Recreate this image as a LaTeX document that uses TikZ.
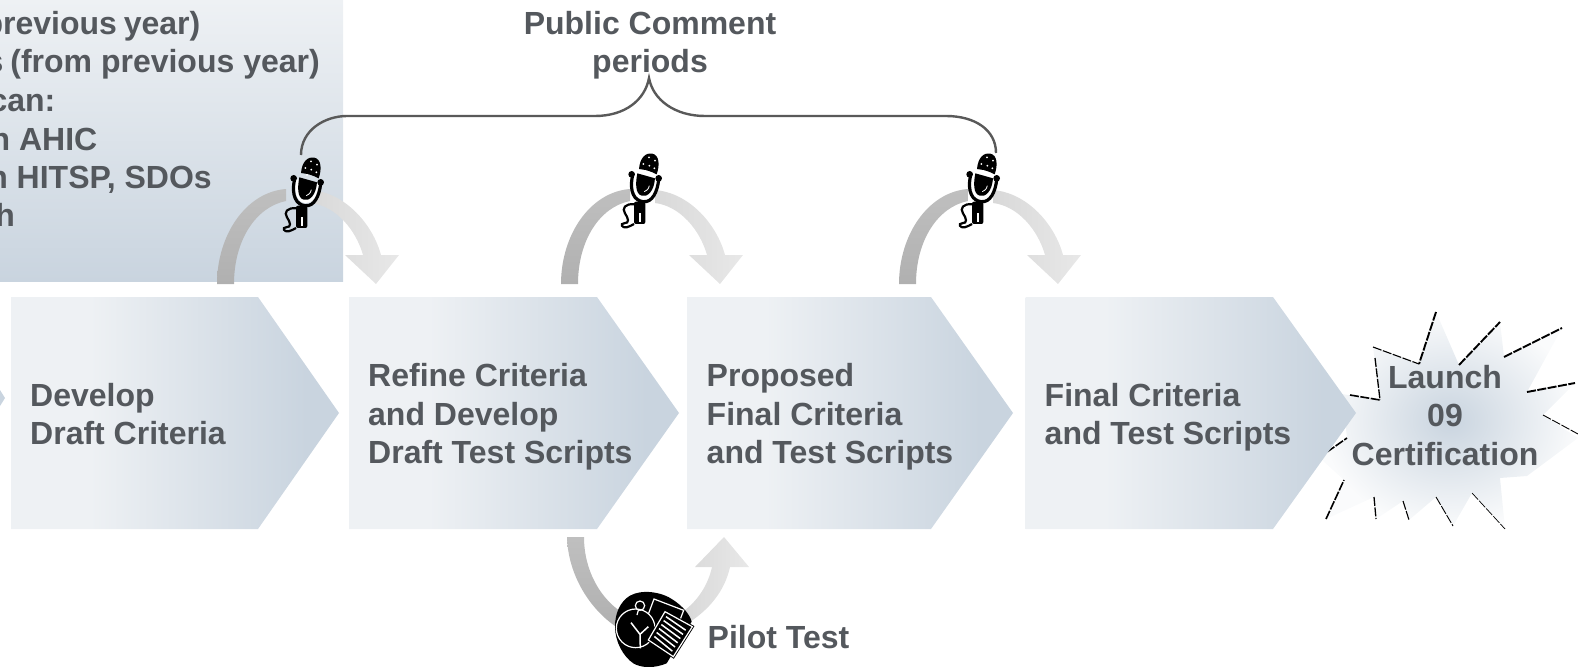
\documentclass[tikz,border=0pt]{standalone}
\usepackage{fontspec}
\setmainfont{Liberation Sans}
\usepackage{tikz}
\usetikzlibrary{positioning,shapes,arrows,calc}

\definecolor{txtgrey}{HTML}{54585D}
\definecolor{paleblue}{HTML}{EEF1F4}
\definecolor{steelblue}{HTML}{C9D4DF}
\pgfdeclarehorizontalshading{chevronshade}{100bp}{color(0bp)=(paleblue); color(37bp)=(paleblue); color(70bp)=(steelblue); color(100bp)=(steelblue)}

\begin{document}
\begin{tikzpicture}
            [x=1pt,y=-1pt,every node/.style={inner sep=0pt,text=txtgrey,font=\fontsize{32}{38.3}\bfseries\selectfont},
             lefttxt/.style={anchor=west,align=left},
             boxtxt/.style={anchor=base east},
             upband/.style={bottom color=black!31,top color=black!25},
             downband/.style={left color=black!15,right color=black!9}]
          \useasboundingbox (0,0) rectangle (1578,666);
          \clip (0,0) rectangle (1578,666);

          \shade[top color=paleblue, bottom color=steelblue] (0,0) rectangle (343,281.5);
          \fill[steelblue] (0,390) -- (5,398) -- (0,406) -- cycle;

          \foreach \xend/\ypos/\txt/\idx in {200.5/35/previous\kern-2pt{} year)/a,320/73/s\kern-2pt{} (from previous year)/b,55.5/111.5/can:/c,97.5/150/n AHIC/d,212/188/{n HITSP, SDOs}/e,15/226.5/h/f}
            \node[boxtxt] (box\idx) at (\xend,\ypos) {\txt};

          % burst behind last chevron
          \shade[inner color=steelblue, outer color=white!70!paleblue] (1436,312) -- (1459,365) -- (1500,322) -- (1504,357) -- (1562,328) -- (1527,392) -- (1575,383) -- (1543,415) -- (1578,438) -- (1527,476) -- (1500,478) -- (1505,529) -- (1472,493) -- (1453,526) -- (1436,497) -- (1409,520) -- (1403,501) -- (1376,519) -- (1374,497) -- (1326,519) -- (1344,480) -- (1322,460) -- (1327,452) -- (1347,438) -- (1342,394) -- (1380,400) -- (1373,347) -- (1419,364) -- cycle;
          \foreach \xa/\ya/\xb/\yb/\wid in {1373/347/1419/364/1.1, 1375/358/1380/400/1.3, 1350/395/1380/400/1.6, 1436/312/1419/364/1.9, 1459/365/1500/322/1.9, 1504/357/1562/328/1.9, 1527/392/1575/383/1.9, 1543/415/1578/434/.9, 1472/493/1505/529/.7, 1436/497/1453/526/.9, 1403/501/1409/520/1.1, 1374/497/1376/519/1.3, 1326/519/1344/480/1.6, 1327/452/1347/438/1.6}
            \draw[black, line width=\wid pt, dash pattern=on 9pt off 1.5pt] (\xa,\ya) -- (\xb,\yb);

          % chevrons
          \foreach \name/\xa/\xb/\xc in {a/11/258/339, b/349/597/679, c/687/931/1013, d/1025.5/1273/1356}
            \shade[shading=chevronshade] (\xa,297) -- (\xb,297) -- (\xc,413) -- (\xb,529) -- (\xa,529) -- cycle;

          \node[lefttxt] (n1) at (30,414) {Develop\\Draft Criteria};
          \node[lefttxt] (n2) at (368,417) {Refine Criteria\\and Develop\\Draft Test Scripts};
          \node[lefttxt] (n3) at (706.5,417) {Proposed\\Final Criteria\\and Test Scripts};
          \node[lefttxt] (n4) at (1044.5,417) {Final Criteria\\and Test Scripts};
          \node[align=center] (n5) at (1445,415.5) {Launch\\09\\Certification};
          \node[align=center] (n6) at (650,45) {Public Comment\\periods};
          \node[lefttxt] (n7) at (707.5,637) {Pilot Test};

          % bent arrows above
          \foreach \dx in {-344,0,338} {
            \begin{scope}[xshift=\dx pt]
              \shade[upband] (561,284) .. controls (561,235) and (590,192) .. (630,189) -- (630,201) .. controls (600,207) and (578,240) .. (578,284) -- cycle;
              \shade[downband] (655,190) .. controls (690,193) and (717,225) .. (725,255) -- (743,255) -- (720,284) -- (689,255) -- (707,255) .. controls (700,230) and (680,206) .. (655,203) -- cycle;
            \end{scope}
          }

          % bent arrow below
          \shade[upband] (567,537) .. controls (568,575) and (590,610) .. (618,628) -- (626,615) .. controls (600,600) and (584,570) .. (584,537) -- cycle;
          \shade[downband] (685,625) .. controls (710,610) and (725,590) .. (730,567) -- (749,567) -- (724,537) -- (695,567) -- (712,567) .. controls (708,585) and (698,600) .. (685,610) -- cycle;

          % microphones
          \foreach \dx/\dy in {-338/4,0/0,338/0} {
            \begin{scope}[shift={(610+\dx,145+\dy)},scale=.3333]
              \fill[white] (70,90) -- (142,105) .. controls (135,150) and (115,165) .. (98,162) .. controls (75,158) and (65,130) .. (70,90) -- cycle;
              \fill[black] (87,72) .. controls (90,35) and (110,22) .. (127,26) .. controls (148,30) and (150,60) .. (140,88) .. controls (122,78) and (105,74) .. (87,72) -- cycle;
              \foreach \px/\py in {117/37,135/47,100/57,118/62,133/70,105/78}
                \fill[white] (\px,\py) circle (3);
              \fill[black] (82,85) -- (135,100) .. controls (132,140) and (112,157) .. (95,152) .. controls (76,147) and (76,115) .. (82,85) -- cycle;
              \draw[white,line width=.8pt] (118,122) .. controls (116,132) and (110,138) .. (103,140);
              \draw[black,line width=3.2pt] (67,95) .. controls (58,140) and (73,168) .. (100,170) .. controls (127,173) and (142,140) .. (146,105);
              \fill[black] (65,88) circle (10) (146,100) circle (10);
              \fill[black,rounded corners=2pt] (72,170) rectangle (106,237);
              \fill[white] (88,205) rectangle (93,232);
              \draw[black,line width=2.2pt] (73,178) .. controls (45,175) and (35,190) .. (45,205) .. controls (55,220) and (60,235) .. (42,235) .. controls (30,235) and (35,250) .. (50,247) .. controls (60,245) and (65,240) .. (72,237);
            \end{scope}
          }

          % curly bracket over mics
          \draw[black!65,line width=2.4pt] (301,155) .. controls (301,130) and (325,116) .. (347,116) -- (595,116) .. controls (625,116) and (645,100) .. (649,78) .. controls (653,100) and (675,116) .. (705,116) -- (946,116) .. controls (975,116) and (996,130) .. (996,153);

          % pilot test icon
          \begin{scope}[shift={(605,585)},scale=.3333]
            \fill[black] (30,125) .. controls (30,85) and (45,50) .. (75,32) .. controls (110,12) and (170,20) .. (205,45) .. controls (235,65) and (255,90) .. (260,110) -- (185,235) .. controls (150,250) and (110,250) .. (85,235) .. controls (55,215) and (30,170) .. (30,125) -- cycle;
            \draw[white,line width=1.2pt,fill=black] (147,42) -- (236,76) -- (200,170) -- (112,135) -- cycle;
            \draw[white,line width=1.2pt,fill=black] (92,130) circle (58);
            \draw[white,line width=1.2pt] (105,62) circle (14) (100,76) -- (96,90);
            \draw[white,line width=1.5pt] (78,113) -- (105,148) -- (130,125) (105,148) -- (106,190);
            \draw[black,line width=3pt] (180,80) -- (262,125) -- (205,215) -- (130,165) -- cycle;
            \draw[white,line width=1.2pt,fill=black] (180,80) -- (262,125) -- (205,215) -- (130,165) -- cycle;
            \foreach \pos in {.14,.28,.42,.56,.70,.84}
              \draw[white,line width=1.5pt] ($(180,80)!\pos!(130,165)+(10,3)$) -- ($(262,125)!\pos!(205,215)+(-12,-2)$);
          \end{scope}
        \end{tikzpicture}
\end{document}
